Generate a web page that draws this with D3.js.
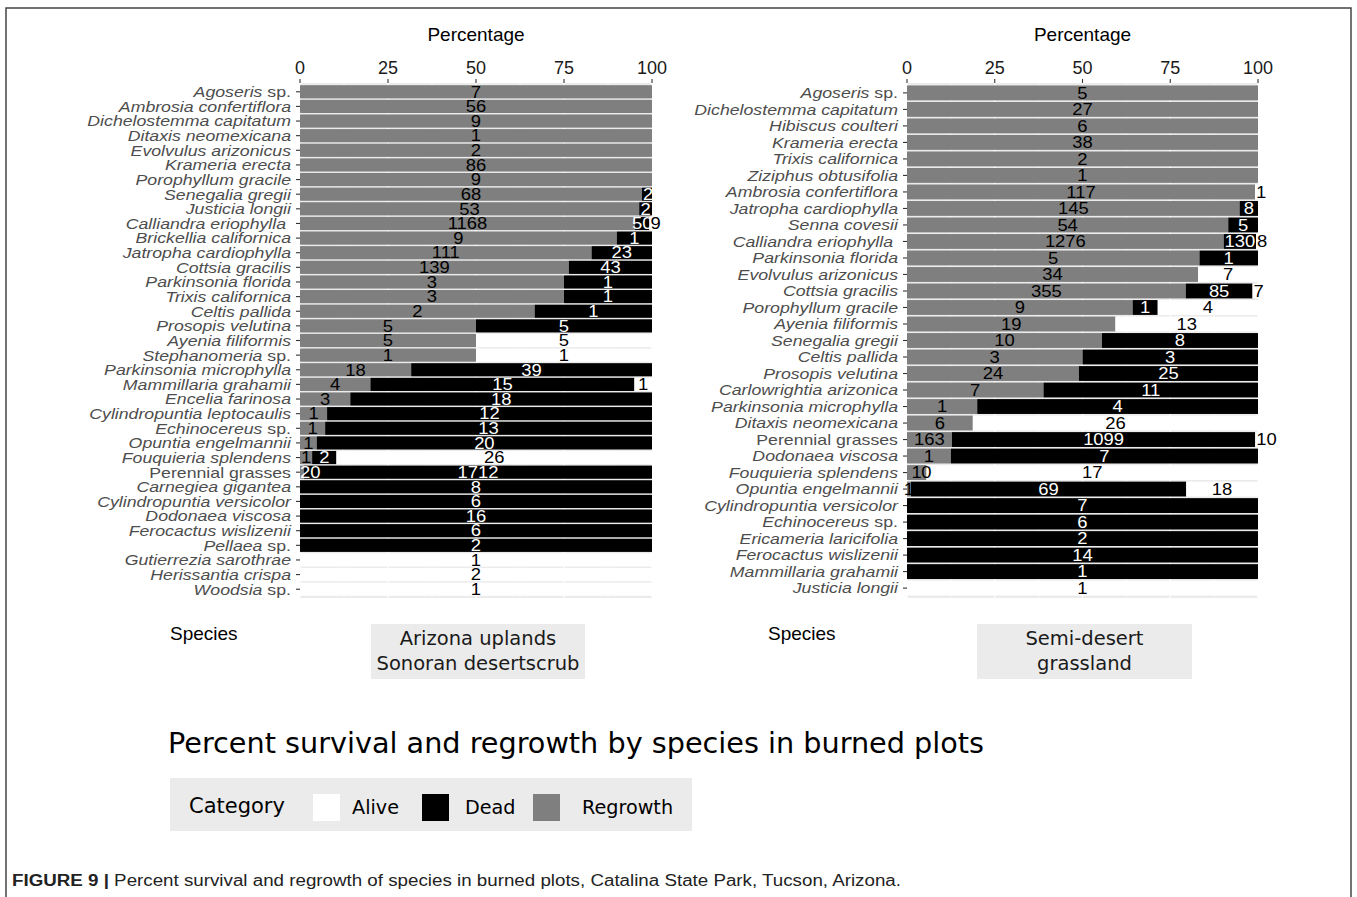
<!DOCTYPE html>
<html>
<head>
<meta charset="utf-8">
<script src="https://cdn.jsdelivr.net/npm/d3@7"></script>
<style>
  body { margin: 0; background: #ffffff; }
  svg { display: block; }
</style>
</head>
<body>
<svg id="chart" width="1357" height="897"></svg>
<script>
// ---------------- DATA ----------------
const categories = ["Regrowth", "Dead", "Alive"];
const xTicks = [0, 25, 50, 75, 100];
const xMinor = [12.5, 37.5, 62.5, 87.5];

// Panel 1: Arizona uplands Sonoran desertscrub
const uplandsSpecies = [
  "Agoseris sp.", "Ambrosia confertiflora", "Dichelostemma capitatum", "Ditaxis neomexicana",
  "Evolvulus arizonicus", "Krameria erecta", "Porophyllum gracile", "Senegalia gregii",
  "Justicia longii", "Calliandra eriophylla\u00A0", "Brickellia californica", "Jatropha cardiophylla",
  "Cottsia gracilis", "Parkinsonia florida", "Trixis californica", "Celtis pallida",
  "Prosopis velutina", "Ayenia filiformis", "Stephanomeria sp.", "Parkinsonia microphylla",
  "Mammillaria grahamii", "Encelia farinosa", "Cylindropuntia leptocaulis", "Echinocereus sp.",
  "Opuntia engelmannii", "Fouquieria splendens", "Perennial grasses", "Carnegiea gigantea",
  "Cylindropuntia versicolor", "Dodonaea viscosa", "Ferocactus wislizenii", "Pellaea sp.",
  "Gutierrezia sarothrae", "Herissantia crispa", "Woodsia sp."
];
const uplandsRegrowth = [7, 56, 9, 1, 2, 86, 9, 68, 53, 1168, 9, 111, 139, 3, 3, 2, 5, 5, 1, 18, 4, 3, 1, 1, 1, 1, 20, null, null, null, null, null, null, null, null];
const uplandsDead     = [null, null, null, null, null, null, null, 2, 2, 50, 1, 23, 43, 1, 1, 1, 5, null, null, 39, 15, 18, 12, 13, 20, 2, 1712, 8, 6, 16, 6, 2, null, null, null];
const uplandsAlive    = [null, null, null, null, null, null, null, null, null, 9, null, null, null, null, null, null, null, 5, 1, null, 1, null, null, null, null, 26, null, null, null, null, null, null, 1, 2, 1];

// Panel 2: Semi-desert grassland
const grasslandSpecies = [
  "Agoseris sp.", "Dichelostemma capitatum", "Hibiscus coulteri", "Krameria erecta",
  "Trixis californica", "Ziziphus obtusifolia", "Ambrosia confertiflora", "Jatropha cardiophylla",
  "Senna covesii", "Calliandra eriophylla\u00A0", "Parkinsonia florida", "Evolvulus arizonicus",
  "Cottsia gracilis", "Porophyllum gracile", "Ayenia filiformis", "Senegalia gregii",
  "Celtis pallida", "Prosopis velutina", "Carlowrightia arizonica", "Parkinsonia microphylla",
  "Ditaxis neomexicana", "Perennial grasses", "Dodonaea viscosa", "Fouquieria splendens",
  "Opuntia engelmannii", "Cylindropuntia versicolor", "Echinocereus sp.", "Ericameria laricifolia",
  "Ferocactus wislizenii", "Mammillaria grahamii", "Justicia longii"
];
const grasslandRegrowth = [5, 27, 6, 38, 2, 1, 117, 145, 54, 1276, 5, 34, 355, 9, 19, 10, 3, 24, 7, 1, 6, 163, 1, 1, 1, null, null, null, null, null, null];
const grasslandDead     = [null, null, null, null, null, null, null, 8, 5, 130, 1, null, 85, 1, null, 8, 3, 25, 11, 4, null, 1099, 7, 0, 69, 7, 6, 2, 14, 1, null];
const grasslandAlive    = [null, null, null, null, null, null, 1, null, null, 8, null, 7, 7, 4, 13, null, null, null, null, null, 26, 10, null, 17, 18, null, null, null, null, null, 1];

const stripLabels = [["Arizona uplands", "Sonoran desertscrub"], ["Semi-desert", "grassland"]];
const legendLabels = ["Alive", "Dead", "Regrowth"];
const titleText = "Percent survival and regrowth by species in burned plots";

// ---------------- STYLE ----------------
const fillColor = d3.scaleOrdinal().domain(["Regrowth", "Dead", "Alive"]).range(["#7f7f7f", "#000000", "#ffffff"]);
const svg = d3.select("#chart");
const SANS = "'Liberation Sans', Arial, sans-serif";
const DEJA = "'DejaVu Sans', sans-serif";

// horizontally stretch a text element (the reference figure is widened)
function stretch(sel, factor) {
  sel.each(function () {
    const w = this.getComputedTextLength();
    d3.select(this).attr("textLength", w * factor).attr("lengthAdjust", "spacingAndGlyphs");
  });
}

// frame
svg.append("rect").attr("x", 6).attr("y", 8).attr("width", 1345).attr("height", 905)
  .attr("fill", "none").attr("stroke", "#444").attr("stroke-width", 1.5);

const panels = [
  { species: uplandsSpecies, R: uplandsRegrowth, D: uplandsDead, A: uplandsAlive,
    x0: 300, x1: 652, strip: stripLabels[0], stripBox: [371, 585], speciesX: 170 },
  { species: grasslandSpecies, R: grasslandRegrowth, D: grasslandDead, A: grasslandAlive,
    x0: 907, x1: 1258, strip: stripLabels[1], stripBox: [977, 1192], speciesX: 768 }
];

const panelTop = 83, panelBottom = 598;

panels.forEach((p, pi) => {
  const x = d3.scaleLinear().domain([0, 100]).range([p.x0, p.x1]);
  const y = d3.scaleBand().domain(p.species).range([panelTop, panelBottom])
    .paddingInner(0.1).paddingOuter(0.15);
  const g = svg.append("g");

  // panel background
  g.append("rect").attr("x", p.x0).attr("y", panelTop).attr("width", p.x1 - p.x0)
    .attr("height", panelBottom - panelTop).attr("fill", "#ebebeb");
  // grid
  g.selectAll(".minor").data(xMinor).enter().append("line")
    .attr("x1", d => x(d)).attr("x2", d => x(d)).attr("y1", panelTop).attr("y2", panelBottom)
    .attr("stroke", "#fff").attr("stroke-width", 0.6);
  g.selectAll(".major").data(xTicks).enter().append("line")
    .attr("x1", d => x(d)).attr("x2", d => x(d)).attr("y1", panelTop).attr("y2", panelBottom)
    .attr("stroke", "#fff").attr("stroke-width", 1.2);

  // stacked data
  const rows = p.species.map((s, i) => {
    const vals = { Regrowth: p.R[i], Dead: p.D[i], Alive: p.A[i] };
    const total = categories.reduce((a, c) => a + (vals[c] || 0), 0);
    let acc = 0;
    const segs = [];
    categories.forEach(c => {
      const v = vals[c];
      if (v === null || v === undefined) return;
      const pct = v / total * 100;
      segs.push({ species: s, cat: c, value: v, start: acc, end: acc + pct });
      acc += pct;
    });
    segs.forEach((sg, k) => { sg.row = segs; sg.idx = k; });
    return segs;
  });
  const segs = rows.flat();

  g.selectAll(".bar").data(segs).enter().append("rect")
    .attr("x", d => x(d.start)).attr("width", d => x(d.end) - x(d.start))
    .attr("y", d => y(d.species)).attr("height", y.bandwidth())
    .attr("fill", d => fillColor(d.cat));

  const labels = g.selectAll(".lbl").data(segs).enter().append("text")
    .attr("x", d => x((d.start + d.end) / 2))
    .attr("y", d => y(d.species) + y.bandwidth() / 2)
    .attr("dy", "0.36em")
    .attr("text-anchor", "middle")
    .attr("font-family", SANS).attr("font-size", 16)
    .text(d => d.value);
  stretch(labels, 1.15);
  // keep labels readable: nudge labels that spill past a bar end; colour contrasts with fill underneath
  labels.each(function (d) {
    const t = d3.select(this);
    const w = +t.attr("textLength");
    const half = w / 2;
    let cx = x((d.start + d.end) / 2);
    const segW = x(d.end) - x(d.start);
    if (cx - half < p.x0 - 4) cx = p.x0 + half;
    if (d.end > 99.99 && d.idx > 0 && segW < w) cx = x(d.start) + half + 1;
    t.attr("x", cx);
    const pct = x.invert(cx);
    const under = d.row.find(s => s.end > s.start && pct >= s.start && pct <= s.end);
    const cat = under ? under.cat : "Alive";
    t.attr("fill", cat === "Dead" ? "#ffffff" : "#000000");
  });

  // top axis
  const ax = g.append("g");
  ax.selectAll("line").data(xTicks).enter().append("line")
    .attr("x1", d => x(d)).attr("x2", d => x(d)).attr("y1", panelTop - 4).attr("y2", panelTop)
    .attr("stroke", "#333").attr("stroke-width", 1.1);
  ax.selectAll("text").data(xTicks).enter().append("text")
    .attr("x", d => x(d)).attr("y", 74).attr("text-anchor", "middle")
    .attr("font-family", SANS).attr("font-size", 18).attr("fill", "#1a1a1a")
    .text(d => d);
  g.append("text").attr("x", (p.x0 + p.x1) / 2).attr("y", 41).attr("text-anchor", "middle")
    .attr("font-family", SANS).attr("font-size", 19).attr("fill", "#000")
    .text("Percentage");

  // y axis ticks + labels
  const ay = g.append("g");
  ay.selectAll("line").data(p.species).enter().append("line")
    .attr("x1", p.x0 - 4).attr("x2", p.x0).attr("y1", d => y(d) + y.bandwidth() / 2)
    .attr("y2", d => y(d) + y.bandwidth() / 2).attr("stroke", "#333").attr("stroke-width", 1.1);
  const lbl = ay.selectAll("text").data(p.species).enter().append("text")
    .attr("x", p.x0 - 9).attr("y", d => y(d) + y.bandwidth() / 2).attr("dy", "0.36em")
    .attr("text-anchor", "end").attr("font-family", SANS).attr("font-size", 15)
    .attr("fill", "#4d4d4d");
  lbl.each(function (d) {
    const t = d3.select(this);
    if (d === "Perennial grasses") { t.text(d); return; }
    if (d.endsWith(" sp.")) {
      t.append("tspan").attr("font-style", "italic").text(d.slice(0, -4));
      t.append("tspan").text(" sp.");
      return;
    }
    t.append("tspan").attr("font-style", "italic").text(d);
  });
  stretch(lbl, 1.18);

  // bottom "Species" and strip
  svg.append("text").attr("x", p.speciesX).attr("y", 640)
    .attr("font-family", SANS).attr("font-size", 19).attr("fill", "#000").text("Species");
  svg.append("rect").attr("x", p.stripBox[0]).attr("y", 624)
    .attr("width", p.stripBox[1] - p.stripBox[0]).attr("height", 55).attr("fill", "#ebebeb");
  p.strip.forEach((s, k) => {
    svg.append("text").attr("x", (p.stripBox[0] + p.stripBox[1]) / 2).attr("y", 645 + k * 25)
      .attr("text-anchor", "middle").attr("font-family", DEJA).attr("font-size", 19.5)
      .attr("fill", "#1a1a1a").text(s);
  });
});

// title
svg.append("text").attr("x", 168).attr("y", 753).attr("font-family", DEJA)
  .attr("font-size", 28.7).attr("fill", "#000").text(titleText);

// legend
const lg = svg.append("g");
lg.append("rect").attr("x", 170).attr("y", 778).attr("width", 522).attr("height", 53).attr("fill", "#ebebeb");
lg.append("text").attr("x", 189).attr("y", 813).attr("font-family", DEJA).attr("font-size", 21)
  .attr("fill", "#000").text("Category");
const keyX = [313, 422, 533];
const labX = [352, 465, 582];
legendLabels.forEach((c, i) => {
  lg.append("rect").attr("x", keyX[i]).attr("y", 794).attr("width", 27).attr("height", 27)
    .attr("fill", fillColor(c));
  lg.append("text").attr("x", labX[i]).attr("y", 814).attr("font-family", DEJA).attr("font-size", 19.2)
    .attr("fill", "#000").text(c);
});

// caption
const cap = svg.append("text").attr("x", 12).attr("y", 886).attr("font-family", SANS)
  .attr("font-size", 16).attr("fill", "#222")
  .attr("textLength", 889).attr("lengthAdjust", "spacingAndGlyphs");
cap.append("tspan").attr("font-weight", "bold").text("FIGURE 9 | ");
cap.append("tspan").text("Percent survival and regrowth of species in burned plots, Catalina State Park, Tucson, Arizona.");
</script>
</body>
</html>
